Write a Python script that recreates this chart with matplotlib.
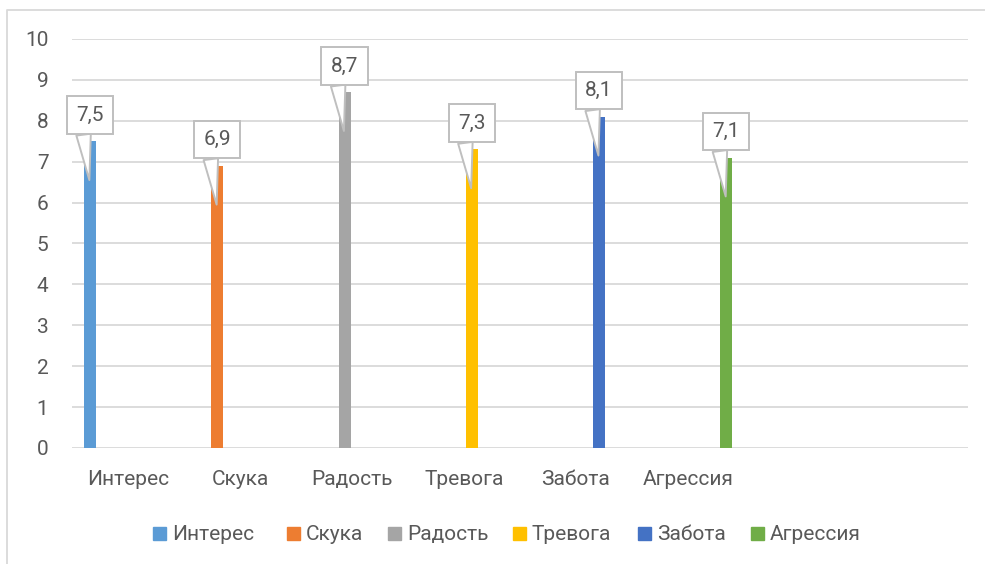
import numpy as np
import matplotlib
matplotlib.use('Agg')
import matplotlib.pyplot as plt
from matplotlib.lines import Line2D
from matplotlib.patches import Rectangle

plt.rcParams['font.family'] = ['Roboto', 'DejaVu Sans']

# data
categories = ['Интерес', 'Скука', 'Радость', 'Тревога', 'Забота', 'Агрессия']
values = [7.5, 6.9, 8.7, 7.3, 8.1, 7.1]
value_labels = ['7,5', '6,9', '8,7', '7,3', '8,1', '7,1']
colors = ['#5B9BD5', '#ED7D31', '#A5A5A5', '#FFC000', '#4472C4', '#70AD47']

text_color = '#595959'
grid_color = '#d9d9d9'
fs = 15
W, H = 985, 564

fig = plt.figure(figsize=(9.85, 5.64), dpi=100)
ax = fig.add_axes([0.0731, 0.2057, 0.9096, 0.7252])

# bars sit in ~7 slots, axis labels in 8 slots (Excel quirk)
nslots = 7.04
idx = np.arange(len(categories))
bar_x = idx + 0.1415
for x, v, c, name in zip(bar_x, values, colors, categories):
    ax.bar(x, v, width=0.094, color=c, label=name, zorder=2)

ax.set_xlim(0, nslots)
ax.set_ylim(0, 10)
ax.set_yticks(range(0, 11))
ax.set_xticks((idx + 0.5) * nslots / 8)
ax.set_xticklabels(categories)
ax.tick_params(axis='both', length=0, labelsize=fs, labelcolor=text_color)
ax.tick_params(axis='y', pad=17)
ax.tick_params(axis='x', pad=27)
for lbl in ax.get_xticklabels():
    lbl.set_verticalalignment('baseline')
ax.grid(axis='y', color=grid_color, linewidth=1.3)
ax.set_axisbelow(True)
for s in ax.spines.values():
    s.set_visible(False)

# callout data labels
for x, v, lab in zip(bar_x, values, value_labels):
    ax.annotate(lab, xy=(x - 0.005, v - 0.95), xytext=(x, v + 0.64),
                ha='center', va='center', fontsize=fs, color=text_color,
                zorder=4,
                bbox=dict(boxstyle='square,pad=0.45', fc='white', ec='#bfbfbf', lw=1.4),
                arrowprops=dict(arrowstyle='wedge,tail_width=0.7', fc='white',
                                ec='#bfbfbf', lw=1.4, relpos=(0.22, 0),
                                shrinkA=0, shrinkB=0))

# legend drawn by hand so all labels share one baseline
leg_x = [153, 287, 388, 513, 638, 751]
leg_base = 540
for px, c, name in zip(leg_x, colors, categories):
    fig.add_artist(Rectangle((px / W, 1 - leg_base / H), 13 / W, 13 / H,
                             transform=fig.transFigure, color=c))
    fig.text((px + 19) / W, 1 - leg_base / H, name, fontsize=fs,
             color=text_color, va='baseline', ha='left')

# chart border (only top and left visible)
fig.add_artist(Line2D([0.0071, 0.0071, 1.0], [0.0, 0.982, 0.982],
                      transform=fig.transFigure, color=grid_color, lw=1.3))

fig.savefig('out.png', dpi=100)
